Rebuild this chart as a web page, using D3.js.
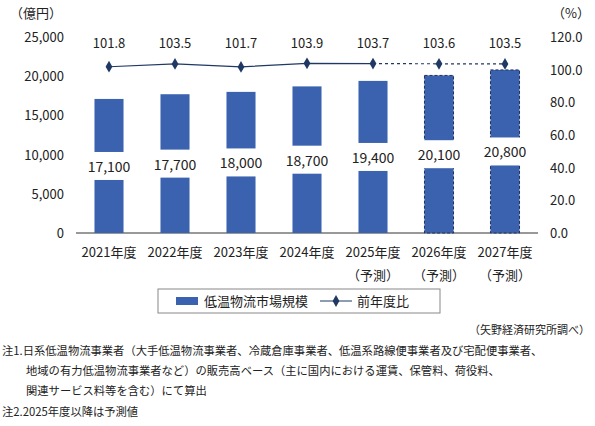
<!DOCTYPE html><html><head><meta charset="utf-8"><script src="https://cdn.jsdelivr.net/npm/d3@7"></script>
<style>body{margin:0;background:#fff}text{font-family:"Noto Sans CJK JP",sans-serif;fill:#222}</style></head><body><svg width="595" height="426"></svg><script>
const years=["2021年度","2022年度","2023年度","2024年度","2025年度","2026年度","2027年度"];
const forecast=[false,false,false,false,true,true,true];
const market=[17100,17700,18000,18700,19400,20100,20800];
const ratio=[101.8,103.5,101.7,103.9,103.7,103.6,103.5];
const leftTicks=[0,5000,10000,15000,20000,25000];
const rightTicks=[0,20,40,60,80,100,120];
const svg=d3.select("svg");
const x=d3.scaleBand().domain(years).range([76,538]).paddingInner(0.56).paddingOuter(0.28);
const yL=d3.scaleLinear().domain([0,25000]).range([233,37]);
const yR=d3.scaleLinear().domain([0,120]).range([233,37]);
const fmt=d3.format(",");
svg.append("line").attr("x1",76).attr("x2",538).attr("y1",233).attr("y2",233).attr("stroke","#333");
leftTicks.forEach(t=>svg.append("text").attr("x",64).attr("y",yL(t)+5).attr("text-anchor","end").attr("font-size",13).text(fmt(t)));
rightTicks.forEach(t=>svg.append("text").attr("x",550).attr("y",yR(t)+5).attr("font-size",13).text(t.toFixed(1)));
svg.append("text").attr("x",10).attr("y",18).attr("font-size",13).text("（億円）");
svg.append("text").attr("x",552).attr("y",18).attr("font-size",13).text("（%）");
const bw=x.bandwidth();
years.forEach((y,i)=>{
 const x0=x(y);
 svg.append("rect").attr("x",x0).attr("width",bw).attr("y",yL(market[i])).attr("height",233-yL(market[i]))
  .attr("fill","#3a62ae").attr("stroke",forecast[i]&&i>4?"#203060":"none").attr("stroke-dasharray","3,2");
 const cy=(yL(market[i])+233)/2;
 svg.append("rect").attr("x",x0-8).attr("width",bw+16).attr("y",cy-14).attr("height",28).attr("fill","#fff");
 svg.append("text").attr("x",x0+bw/2).attr("y",cy+6).attr("text-anchor","middle").attr("font-size",14).text(fmt(market[i]));
 svg.append("text").attr("x",x0+bw/2).attr("y",257).attr("text-anchor","middle").attr("font-size",13).text(y);
 if(forecast[i])svg.append("text").attr("x",x0+bw/2).attr("y",280).attr("text-anchor","middle").attr("font-size",13).text("（予測）");
 svg.append("text").attr("x",x0+bw/2).attr("y",48).attr("text-anchor","middle").attr("font-size",13).text(ratio[i].toFixed(1));
});
const cx=i=>x(years[i])+bw/2;
const line=d3.line().x(d=>cx(d)).y(d=>yR(ratio[d]));
svg.append("path").attr("d",line([0,1,2,3,4])).attr("fill","none").attr("stroke","#1f3864").attr("stroke-width",1.2);
svg.append("path").attr("d",line([4,5,6])).attr("fill","none").attr("stroke","#1f3864").attr("stroke-width",1.2).attr("stroke-dasharray","3,3");
ratio.forEach((r,i)=>svg.append("path").attr("d",d3.symbol(d3.symbolDiamond,40)()).attr("transform",`translate(${cx(i)},${yR(r)})`).attr("fill","#1f3864"));
// legend
svg.append("rect").attr("x",158).attr("y",289).attr("width",282).attr("height",24).attr("fill","none").attr("stroke","#888");
svg.append("rect").attr("x",176).attr("y",297).attr("width",22).attr("height",8).attr("fill","#3a62ae");
svg.append("text").attr("x",204).attr("y",306).attr("font-size",13).text("低温物流市場規模");
svg.append("line").attr("x1",320).attr("x2",352).attr("y1",301).attr("y2",301).attr("stroke","#1f3864");
svg.append("path").attr("d",d3.symbol(d3.symbolDiamond,40)()).attr("transform","translate(336,301)").attr("fill","#1f3864");
svg.append("text").attr("x",357).attr("y",306).attr("font-size",13).text("前年度比");
svg.append("text").attr("x",590).attr("y",334).attr("text-anchor","end").attr("font-size",11).text("（矢野経済研究所調べ）");
const notes=[[2,355,"注1.日系低温物流事業者（大手低温物流事業者、冷蔵倉庫事業者、低温系路線便事業者及び宅配便事業者、"],[26,375,"地域の有力低温物流事業者など）の販売高ベース（主に国内における運賃、保管料、荷役料、"],[26,395,"関連サービス料等を含む）にて算出"],[2,416,"注2.2025年度以降は予測値"]];
notes.forEach(n=>svg.append("text").attr("x",n[0]).attr("y",n[1]).attr("font-size",11.3).text(n[2]));
</script></body></html>
